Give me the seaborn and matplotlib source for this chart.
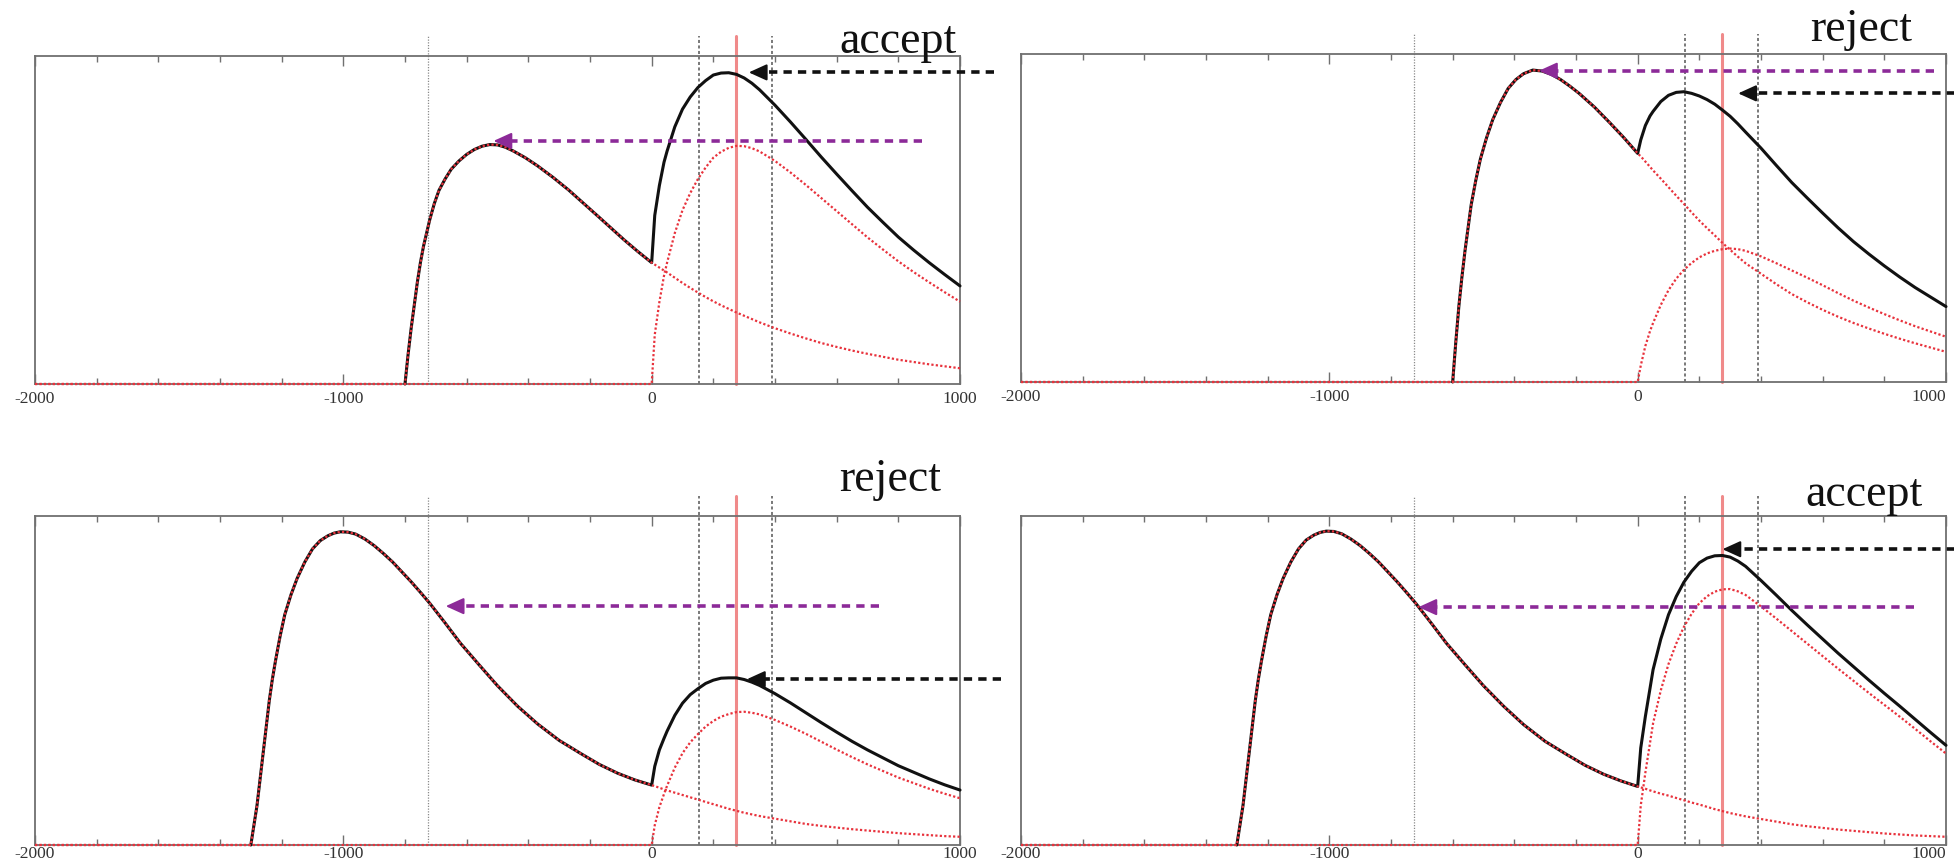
import matplotlib
matplotlib.use("Agg")
import matplotlib.pyplot as plt
import seaborn as sns
from matplotlib.ticker import MultipleLocator, FixedLocator

# ---------------- data ----------------
# common x positions after the second onset (x = 0)
X_POST = [10, 25, 40, 50, 75, 100, 125, 150, 175, 200, 225, 250, 275, 300, 325, 350,
          400, 450, 500, 550, 600, 650, 700, 750, 800, 850, 900, 950, 1000]

# Top-left panel ("accept")
X_PRE_TL = [-2000, -800, -790, -780, -770, -760, -750, -740, -730, -720, -705, -690, -670, -650, -625,
            -600, -575, -550, -525, -500, -475, -450, -410, -370, -320, -270, -220, -170, -130, -90, -45, 0]
C1_PRE_TL = [0, 0, 0.09, 0.17, 0.24, 0.31, 0.37, 0.42, 0.46, 0.50, 0.55, 0.59, 0.625, 0.655, 0.68,
             0.70, 0.715, 0.725, 0.73, 0.729, 0.722, 0.711, 0.69, 0.665, 0.63, 0.592, 0.55, 0.508, 0.474, 0.44, 0.404, 0.37]
C1_POST_TL = [0.364, 0.355, 0.346, 0.34, 0.324, 0.308, 0.293, 0.279, 0.265, 0.252, 0.24, 0.229, 0.218, 0.208, 0.198, 0.188,
              0.17, 0.154, 0.139, 0.125, 0.113, 0.102, 0.092, 0.083, 0.074, 0.067, 0.06, 0.054, 0.048]
C2_POST_TL = [0.15, 0.25, 0.33, 0.37, 0.46, 0.53, 0.582, 0.625, 0.66, 0.69, 0.708, 0.72, 0.726, 0.725, 0.719, 0.709,
              0.68, 0.645, 0.607, 0.567, 0.527, 0.487, 0.447, 0.41, 0.374, 0.341, 0.31, 0.28, 0.251]

# Top-right panel ("reject")
X_PRE_TR = [-2000, -600, -590, -580, -570, -560, -550, -540, -525, -510, -490, -470, -445, -420, -395,
            -370, -340, -310, -280, -250, -220, -190, -140, -90, -45, 0]
C1_PRE_TR = [0, 0, 0.12, 0.23, 0.32, 0.40, 0.47, 0.54, 0.615, 0.68, 0.745, 0.80, 0.852, 0.895, 0.922,
             0.94, 0.951, 0.948, 0.938, 0.922, 0.902, 0.88, 0.838, 0.79, 0.745, 0.697]
C1_POST_TR = [0.688, 0.672, 0.656, 0.645, 0.62, 0.594, 0.568, 0.543, 0.517, 0.492, 0.469, 0.447, 0.424, 0.403, 0.382, 0.362,
              0.33, 0.298, 0.268, 0.243, 0.22, 0.199, 0.18, 0.163, 0.147, 0.132, 0.118, 0.105, 0.092]
C2_POST_TR = [0.05, 0.11, 0.155, 0.18, 0.235, 0.28, 0.315, 0.342, 0.363, 0.38, 0.392, 0.40, 0.405, 0.407, 0.405, 0.40,
              0.383, 0.362, 0.34, 0.318, 0.295, 0.271, 0.248, 0.227, 0.207, 0.188, 0.17, 0.154, 0.138]

# Bottom-left panel ("reject")
X_PRE_BL = [-2000, -1300, -1290, -1280, -1270, -1260, -1250, -1240, -1230, -1220, -1205, -1190, -1170, -1150,
            -1125, -1100, -1075, -1050, -1030, -1010, -985, -960, -930, -900, -870, -840, -810, -780, -750,
            -720, -670, -620, -560, -500, -435, -370, -300, -230, -170, -110, -55, 0]
C1_PRE_BL = [0, 0, 0.06, 0.12, 0.20, 0.28, 0.36, 0.44, 0.505, 0.56, 0.635, 0.70, 0.76, 0.81,
             0.86, 0.90, 0.925, 0.94, 0.948, 0.952, 0.951, 0.945, 0.93, 0.91, 0.886, 0.86, 0.83, 0.80, 0.768,
             0.735, 0.675, 0.613, 0.548, 0.484, 0.422, 0.368, 0.318, 0.278, 0.245, 0.218, 0.198, 0.182]
C1_POST_BL = [0.179, 0.174, 0.169, 0.166, 0.159, 0.152, 0.145, 0.138, 0.131, 0.124, 0.117, 0.11, 0.104, 0.098, 0.093, 0.088,
              0.08, 0.072, 0.064, 0.058, 0.053, 0.048, 0.044, 0.04, 0.036, 0.033, 0.03, 0.027, 0.025]
C2_POST_BL = [0.06, 0.115, 0.155, 0.18, 0.235, 0.279, 0.312, 0.337, 0.36, 0.377, 0.39, 0.398, 0.404, 0.405, 0.402, 0.397,
              0.38, 0.36, 0.338, 0.314, 0.29, 0.267, 0.245, 0.225, 0.205, 0.188, 0.171, 0.156, 0.142]

# Bottom-right panel ("accept")
X_PRE_BR = [-2000, -1300, -1290, -1280, -1270, -1260, -1250, -1240, -1230, -1220, -1205, -1190, -1170, -1150,
            -1125, -1100, -1075, -1050, -1030, -1010, -985, -960, -930, -900, -870, -840, -810, -780, -750,
            -720, -670, -620, -560, -500, -435, -370, -300, -230, -170, -110, -55, 0]
C1_PRE_BR = [0, 0, 0.06, 0.12, 0.20, 0.28, 0.36, 0.44, 0.505, 0.56, 0.635, 0.70, 0.76, 0.81,
             0.86, 0.90, 0.927, 0.942, 0.95, 0.954, 0.953, 0.946, 0.93, 0.91, 0.886, 0.86, 0.83, 0.80, 0.768,
             0.735, 0.675, 0.613, 0.548, 0.484, 0.422, 0.366, 0.315, 0.275, 0.242, 0.215, 0.195, 0.178]
C1_POST_BR = [0.175, 0.171, 0.166, 0.163, 0.156, 0.15, 0.143, 0.136, 0.129, 0.123, 0.116, 0.109, 0.103, 0.097, 0.092, 0.087,
              0.079, 0.071, 0.063, 0.057, 0.052, 0.047, 0.043, 0.039, 0.035, 0.032, 0.029, 0.027, 0.025]
C2_POST_BR = [0.12, 0.22, 0.31, 0.37, 0.47, 0.55, 0.612, 0.663, 0.703, 0.735, 0.756, 0.77, 0.777, 0.778, 0.771, 0.76,
              0.725, 0.688, 0.65, 0.612, 0.574, 0.536, 0.499, 0.462, 0.426, 0.39, 0.353, 0.315, 0.278]

DECISIONS = ["accept", "reject", "reject", "accept"]

# reference vertical markers (x values)
GRAY_LINE_X = -727
DASH_LINES_X = [152, 391]
RED_LINE_X = 272

# arrows: (tip x, tip y, tail x)
PURPLE_ARROWS = [(-513, 0.741, 876), (-320, 0.949, 961), (-668, 0.726, 736), (-711, 0.723, 895)]
BLACK_ARROWS = [(315, 0.950, 1110), (326, 0.880, 1030), (309, 0.504, 1133), (275, 0.899, 1030)]

TICKS = [-2000, -1000, 0, 1000]
TICK_LABELS = ["-2000", "-1000", "0", "1000"]

# ---------------- styling ----------------
sns.set_theme(style="white")
plt.rcParams["font.family"] = ["Liberation Serif", "DejaVu Serif"]

W, H = 1954, 863
fig = plt.figure(figsize=(W / 100, H / 100), dpi=100)


def rect(l, t, r, b):
    return [l / W, 1 - b / H, (r - l) / W, (b - t) / H]


panels = [
    dict(rect=rect(35, 56, 960, 384), pre=(X_PRE_TL, C1_PRE_TL), post=(C1_POST_TL, C2_POST_TL),
         text=(957, 53), pad=5, right=False),
    dict(rect=rect(1021, 54, 1946, 382), pre=(X_PRE_TR, C1_PRE_TR), post=(C1_POST_TR, C2_POST_TR),
         text=(1912, 41), pad=5, right=True),
    dict(rect=rect(35, 516, 960, 845), pre=(X_PRE_BL, C1_PRE_BL), post=(C1_POST_BL, C2_POST_BL),
         text=(941, 491), pad=1, right=False),
    dict(rect=rect(1021, 516, 1946, 845), pre=(X_PRE_BR, C1_PRE_BR), post=(C1_POST_BR, C2_POST_BR),
         text=(1923, 506), pad=1, right=True),
]

RED = "#e8323c"
PURPLE = "#8c2a98"
SPINE = "#707070"

for i, p in enumerate(panels):
    ax = fig.add_axes(p["rect"])
    ax.set_facecolor("white")
    xpre, c1pre = p["pre"]
    c1post, c2post = p["post"]
    x = list(xpre) + X_POST
    c1 = list(c1pre) + c1post
    c2 = [0.0] * len(xpre) + c2post
    total = [a + b for a, b in zip(c1, c2)]

    # vertical reference lines (extend above frame)
    ax.axvline(GRAY_LINE_X, ymin=0, ymax=1.06, color="#8a8a8a", lw=0.9,
               linestyle=(0, (1, 1.2)), clip_on=False, zorder=1)
    for dx in DASH_LINES_X:
        ax.axvline(dx, ymin=0, ymax=1.06, color="#555555", lw=1.1,
                   linestyle=(0, (2, 1.6)), clip_on=False, zorder=1)
    ax.axvline(RED_LINE_X, ymin=0, ymax=1.06, color="#f08a8a", lw=2.2,
               clip_on=False, zorder=1)

    # black total curve (from onset of first component)
    sns.lineplot(x=x[1:], y=total[1:], ax=ax, color="#111111", linewidth=2.2,
                 estimator=None, sort=False, zorder=3, clip_on=False)
    # red dotted components
    sns.lineplot(x=x, y=c1, ax=ax, color=RED, linewidth=1.6, linestyle=(0, (1, 1)),
                 estimator=None, sort=False, zorder=4, clip_on=False)
    sns.lineplot(x=x, y=c2, ax=ax, color=RED, linewidth=1.6, linestyle=(0, (1, 1)),
                 estimator=None, sort=False, zorder=4, clip_on=False)

    # arrows
    for (tx, ty, tail), col in ((PURPLE_ARROWS[i], PURPLE), (BLACK_ARROWS[i], "#111111")):
        ax.plot([tail, tx + 40], [ty, ty], color=col, lw=2.6, dashes=(2.3, 1.7),
                clip_on=False, zorder=5, dash_capstyle="butt")
        ax.annotate("", xy=(tx, ty), xytext=(tx + 50, ty),
                    arrowprops=dict(arrowstyle="-|>,head_length=0.55,head_width=0.25",
                                    mutation_scale=20, color=col, lw=1.5,
                                    shrinkA=0, shrinkB=0),
                    annotation_clip=False, zorder=6)

    ax.set_xlim(-2000, 1000)
    ax.set_ylim(0, 1)
    ax.set_xlabel("")
    ax.set_ylabel("")
    ax.set_yticks([])
    ax.xaxis.set_major_locator(FixedLocator(TICKS))
    ax.set_xticklabels(TICK_LABELS)
    ax.xaxis.set_minor_locator(MultipleLocator(200))
    ax.tick_params(axis="x", which="both", direction="in", top=True, bottom=True,
                   color=SPINE, labelsize=12.5, labelcolor="#333333", pad=p["pad"])
    ax.tick_params(axis="x", which="major", length=7, width=1.0)
    ax.tick_params(axis="x", which="minor", length=4, width=1.0)
    for s in ax.spines.values():
        s.set_color(SPINE)
        s.set_linewidth(1.3)
        s.set_zorder(2)

    labels = ax.get_xticklabels()
    if p["right"]:
        labels[-1].set_horizontalalignment("right")

    tx, ty = p["text"]
    fig.text(tx / W, 1 - ty / H, DECISIONS[i], ha="right", va="baseline",
             fontsize=33, color="#111111", family=["Liberation Serif", "DejaVu Serif"])

fig.savefig("out.png", dpi=100, facecolor="white")
